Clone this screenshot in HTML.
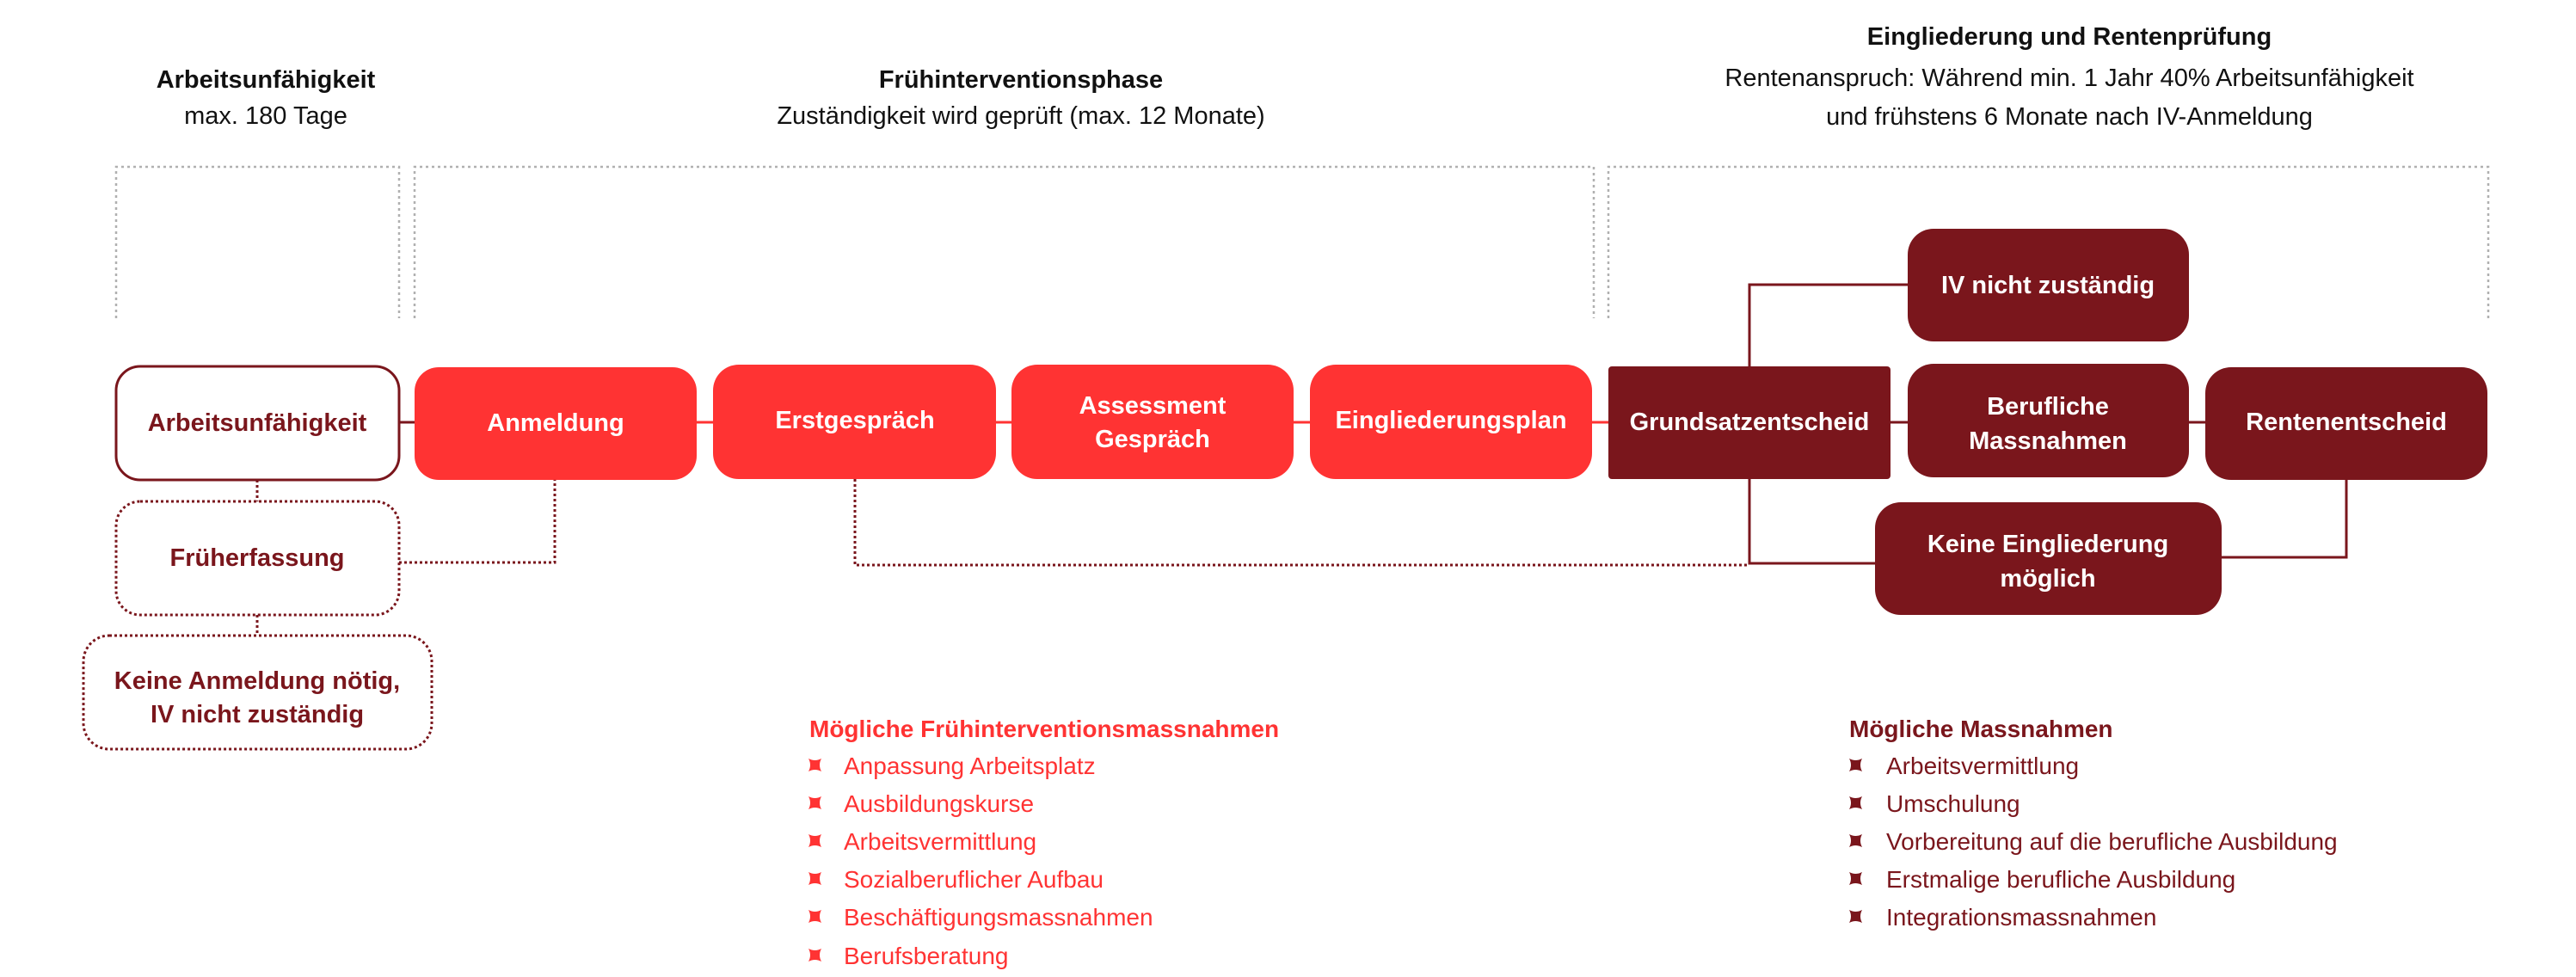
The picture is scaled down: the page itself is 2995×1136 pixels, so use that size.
<!DOCTYPE html>
<html><head><meta charset="utf-8"><style>
html,body{margin:0;padding:0;background:#fff;}
svg{display:block;}
text{font-family:"Liberation Sans",sans-serif;}
</style></head><body>
<svg width="2995" height="1136" viewBox="0 0 2995 1136" xmlns="http://www.w3.org/2000/svg">
<defs>
<path id="bul" d="M0,0 Q7.5,4 15,0 Q11,7.5 15,15 Q7.5,11 0,15 Q4,7.5 0,0Z"/>
</defs>
<!-- headers -->
<g fill="#111" font-size="29" text-anchor="middle">
<text x="309" y="102" font-weight="bold">Arbeitsunfähigkeit</text>
<text x="309" y="144">max. 180 Tage</text>
<text x="1187" y="102" font-weight="bold">Frühinterventionsphase</text>
<text x="1187" y="144">Zuständigkeit wird geprüft (max. 12 Monate)</text>
<text x="2406" y="52" font-weight="bold">Eingliederung und Rentenprüfung</text>
<text x="2406" y="100">Rentenanspruch: Während min. 1 Jahr 40% Arbeitsunfähigkeit</text>
<text x="2406" y="145">und frühstens 6 Monate nach IV-Anmeldung</text>
</g>
<!-- grey brackets -->
<g fill="none" stroke="#b0b0b0" stroke-width="2.5" stroke-dasharray="3,4">
<path d="M135,370 V194 H464 V370"/>
<path d="M482,370 V194 H1853 V370"/>
<path d="M1870,370 V194 H2893 V370"/>
</g>
<!-- connectors -->
<g stroke="#ff3333" stroke-width="3" fill="none">
<path d="M810,491 H829 M1158,491 H1176 M1504,491 H1523 M1851,491 H1870"/>
</g>
<g stroke="#7a161c" stroke-width="3" fill="none">
<path d="M464,491 H482"/>
<path d="M2198,491 H2218 M2545,491 H2564"/>
<path d="M2034,426 V331 H2218"/>
<path d="M2034,557 V655 H2180"/>
<path d="M2728,557 V648 H2583"/>
</g>
<g stroke="#7a161c" stroke-width="3" fill="none" stroke-dasharray="3,3">
<path d="M299,558 V583 M299,715 V739"/>
<path d="M464,654 H645 V558"/>
<path d="M994,557 V657 H2034"/>
</g>
<!-- boxes -->
<rect x="135" y="426" width="329" height="132" rx="28" fill="#fff" stroke="#7a161c" stroke-width="3"/>
<rect x="482" y="427" width="328" height="131" rx="28" fill="#ff3333"/>
<rect x="829" y="424" width="329" height="133" rx="30" fill="#ff3333"/>
<rect x="1176" y="424" width="328" height="133" rx="30" fill="#ff3333"/>
<rect x="1523" y="424" width="328" height="133" rx="30" fill="#ff3333"/>
<rect x="1870" y="426" width="328" height="131" rx="4" fill="#7a161c"/>
<rect x="2218" y="266" width="327" height="131" rx="30" fill="#7a161c"/>
<rect x="2218" y="423" width="327" height="132" rx="30" fill="#7a161c"/>
<rect x="2564" y="427" width="328" height="131" rx="30" fill="#7a161c"/>
<rect x="2180" y="584" width="403" height="131" rx="30" fill="#7a161c"/>
<rect x="135" y="583" width="329" height="132" rx="28" fill="#fff" stroke="#7a161c" stroke-width="3" stroke-dasharray="3,3"/>
<rect x="97" y="739" width="405" height="132" rx="30" fill="#fff" stroke="#7a161c" stroke-width="3" stroke-dasharray="3,3"/>
<!-- box labels -->
<g font-size="29" font-weight="bold" text-anchor="middle">
<text x="299" y="501" fill="#7a161c">Arbeitsunfähigkeit</text>
<text x="646" y="501" fill="#fff">Anmeldung</text>
<text x="994" y="498" fill="#fff">Erstgespräch</text>
<text x="1340" y="481" fill="#fff">Assessment</text>
<text x="1340" y="520" fill="#fff">Gespräch</text>
<text x="1687" y="498" fill="#fff">Eingliederungsplan</text>
<text x="2034" y="500" fill="#fff">Grundsatzentscheid</text>
<text x="2381" y="341" fill="#fff">IV nicht zuständig</text>
<text x="2381" y="482" fill="#fff">Berufliche</text>
<text x="2381" y="522" fill="#fff">Massnahmen</text>
<text x="2728" y="500" fill="#fff">Rentenentscheid</text>
<text x="2381" y="642" fill="#fff">Keine Eingliederung</text>
<text x="2381" y="682" fill="#fff">möglich</text>
<text x="299" y="658" fill="#7a161c">Früherfassung</text>
<text x="299" y="801" fill="#7a161c">Keine Anmeldung nötig,</text>
<text x="299" y="840" fill="#7a161c">IV nicht zuständig</text>
</g>
<!-- lists -->
<g fill="#ff3333" font-size="28">
<text x="941" y="857" font-weight="bold">Mögliche Frühinterventionsmassnahmen</text>
<use href="#bul" x="940" y="882"/><text x="981" y="900">Anpassung Arbeitsplatz</text>
<use href="#bul" x="940" y="926"/><text x="981" y="944">Ausbildungskurse</text>
<use href="#bul" x="940" y="970"/><text x="981" y="988">Arbeitsvermittlung</text>
<use href="#bul" x="940" y="1014"/><text x="981" y="1032">Sozialberuflicher Aufbau</text>
<use href="#bul" x="940" y="1058"/><text x="981" y="1076">Beschäftigungsmassnahmen</text>
<use href="#bul" x="940" y="1103"/><text x="981" y="1121">Berufsberatung</text>
</g>
<g fill="#7a161c" font-size="28">
<text x="2150" y="857" font-weight="bold">Mögliche Massnahmen</text>
<use href="#bul" x="2150" y="882"/><text x="2193" y="900">Arbeitsvermittlung</text>
<use href="#bul" x="2150" y="926"/><text x="2193" y="944">Umschulung</text>
<use href="#bul" x="2150" y="970"/><text x="2193" y="988">Vorbereitung auf die berufliche Ausbildung</text>
<use href="#bul" x="2150" y="1014"/><text x="2193" y="1032">Erstmalige berufliche Ausbildung</text>
<use href="#bul" x="2150" y="1058"/><text x="2193" y="1076">Integrationsmassnahmen</text>
</g>
</svg>
</body></html>
